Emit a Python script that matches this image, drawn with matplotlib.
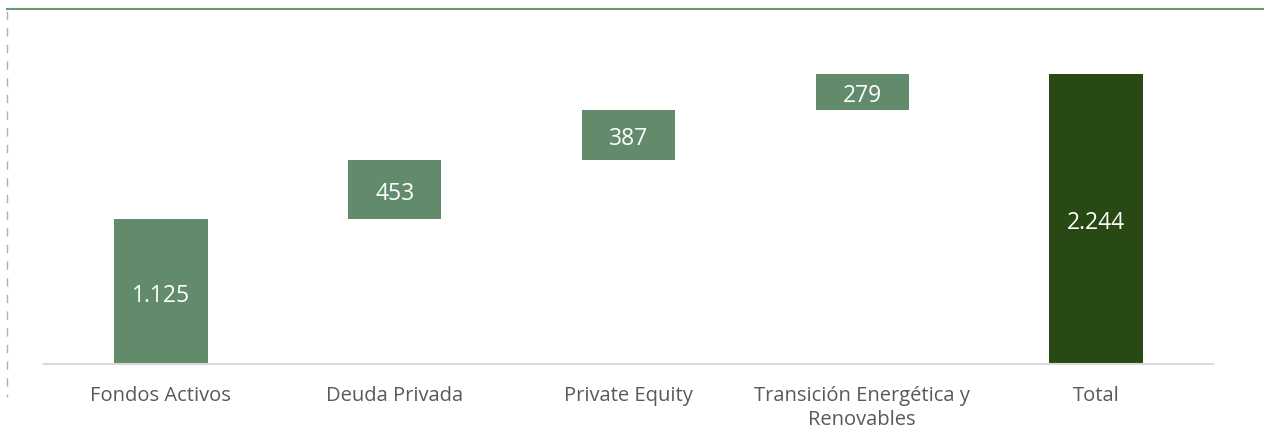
import matplotlib.pyplot as plt
from matplotlib.lines import Line2D

categories = ['Fondos Activos', 'Deuda Privada', 'Private Equity',
              'Transición Energética y\nRenovables', 'Total']
steps = [1125, 453, 387, 279]
total = 2244
labels = ['1.125', '453', '387', '279', '2.244']

plt.rcParams['font.family'] = ['Open Sans', 'DejaVu Sans']

fig = plt.figure(figsize=(12.64, 4.31), dpi=100)
ax = fig.add_axes([44 / 1264, 66 / 431, (1213 - 44) / 1264, 323 / 431])

# waterfall: each step starts where the previous ended
bottoms = []
running = 0
for v in steps:
    bottoms.append(running)
    running += v
heights = steps + [total]
bottoms = bottoms + [0]
colors = ['#628b6c'] * len(steps) + ['#284914']

x = list(range(len(categories)))
bars = ax.bar(x, heights, bottom=bottoms, width=0.4, color=colors)

for b, lab in zip(bars, labels):
    ax.text(b.get_x() + b.get_width() / 2, b.get_y() + b.get_height() / 2 - 25, lab,
            ha='center', va='center', color='white', fontsize=16.5)

ax.set_xlim(-0.5, 4.5)
ax.set_ylim(0, 2500)
ax.set_xticks(x)
ax.set_xticklabels(categories, color='#595959', fontsize=14.5, linespacing=1.3)
ax.tick_params(axis='x', length=0, pad=15)
ax.set_yticks([])
for s in ['top', 'right', 'left']:
    ax.spines[s].set_visible(False)
ax.spines['bottom'].set_color('#d9d9d9')
ax.spines['bottom'].set_linewidth(1.5)

# frame decorations from the source slide
fig.add_artist(Line2D([7 / 1264, 1.0], [1 - 9.5 / 431, 1 - 9.5 / 431],
                      color='#6a9a72', linewidth=1.5))
fig.add_artist(Line2D([7 / 1264, 7 / 1264], [1 - 12 / 431, 1 - 398 / 431],
                      color='#b0b0b0', linewidth=1, linestyle=(0, (6, 6))))

fig.savefig('out.png', dpi=100)
